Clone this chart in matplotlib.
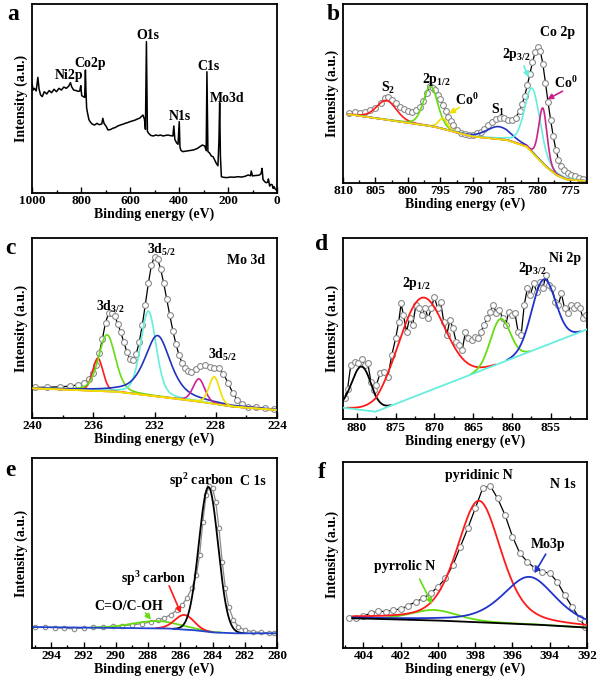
import matplotlib
matplotlib.use("Agg")
import matplotlib.pyplot as plt
import numpy as np
from matplotlib.ticker import MultipleLocator

plt.rcParams["font.family"] = ["Liberation Serif", "DejaVu Serif"]
plt.rcParams["font.weight"] = "bold"
plt.rcParams["axes.labelweight"] = "bold"
plt.rcParams["mathtext.fontset"] = "custom"
plt.rcParams["mathtext.rm"] = "Liberation Serif:bold"
plt.rcParams["mathtext.it"] = "Liberation Serif:bold"
plt.rcParams["mathtext.bf"] = "Liberation Serif:bold"
plt.rcParams["mathtext.default"] = "rm"

# ---- data (intensity in % of panel height) ----
# a: survey
a_energy = [1000, 995, 990, 983, 976, 971, 965, 958, 950, 940, 930, 920, 910, 900, 890,
            880, 870, 860, 850, 843, 838, 830, 820, 812, 805, 801, 797, 790, 785, 782,
            780, 777, 773, 768, 763, 755, 745, 735, 725, 715, 711, 706, 698, 690, 680,
            670, 660, 650, 640, 630, 620, 610, 600, 590, 580, 570, 560, 554, 547, 541,
            537, 533, 529, 524, 515, 505, 495, 485, 475, 465, 455, 445, 435, 425, 421,
            417, 410, 404, 399, 396, 392, 385, 370, 355, 340, 325, 315, 305, 295, 289,
            286, 282, 276, 268, 261, 254, 248, 241, 237, 234, 231, 227, 220, 205, 190,
            175, 160, 145, 130, 118, 108, 105, 100, 90, 80, 71, 65, 61, 57, 50,
            44, 38, 35, 30, 25, 20, 16, 12, 8, 3, 0]
a_counts = [58.0, 54.5, 55.4, 54.0, 61.2, 54.9, 51.9, 51.0, 53.6, 52.4, 54.2, 53.1, 54.9, 53.6, 55.4,
            54.5, 56.1, 55.4, 56.6, 58.4, 56.2, 54.5, 54.2, 53.8, 54.0, 56.8, 51.5, 51.0, 50.6, 65.1,
            55.0, 45.0, 42.1, 38.9, 37.7, 36.5, 35.9, 36.8, 36.1, 36.5, 39.5, 36.8, 35.4, 33.3, 33.5,
            34.2, 34.6, 35.4, 35.9, 36.3, 36.8, 37.2, 37.7, 38.1, 38.5, 39.1, 39.6, 40.4, 41.2, 39.0,
            33.6, 80.2, 32.6, 31.5, 30.4, 30.1, 30.6, 30.3, 30.6, 30.1, 30.4, 30.6, 30.3, 30.1, 35.4,
            28.3, 26.5, 25.7, 37.7, 24.1, 22.5, 21.8, 22.1, 22.4, 22.7, 23.5, 24.4, 25.3, 24.8, 22.3,
            64.2, 21.8, 21.2, 19.5, 19.1, 17.3, 15.6, 14.3, 27.8, 47.8, 19.5, 8.5, 8.2, 8.0, 8.3,
            8.2, 8.5, 8.3, 8.7, 9.4, 9.0, 11.5, 8.9, 9.1, 9.2, 9.4, 10.2, 12.9, 7.0, 5.8,
            5.3, 5.6, 7.3, 3.5, 4.4, 4.3, 2.3, 3.2, 2.1, 1.4, 1.2]

# b: Co 2p
b_energy = [809.0, 808.2, 807.4, 806.6, 805.8, 805.0, 804.2, 803.6, 803.0, 802.4, 801.8, 801.2,
            800.6, 800.0, 799.4, 798.8, 798.2, 797.6, 797.0, 796.6, 796.2, 795.8, 795.4, 795.0,
            794.6, 794.2, 793.8, 793.4, 793.0, 792.4, 791.8, 791.2, 790.6, 790.0, 789.4, 788.8,
            788.2, 787.6, 787.0, 786.4, 785.8, 785.2, 784.6, 784.0, 783.4, 782.8, 782.4, 782.0,
            781.6, 781.2, 780.8, 780.4, 780.0, 779.6, 779.2, 778.8, 778.4, 778.0, 777.6, 777.2,
            776.8, 776.4, 776.0, 775.4, 774.8, 774.2, 773.6, 773.0]
b_counts = [39.3, 39.6, 38.9, 39.8, 40.9, 42.0, 44.5, 47.5, 47.9, 46.4, 44.8, 42.6,
            41.3, 40.2, 39.6, 40.6, 42.6, 46.0, 50.5, 54.0, 53.3, 51.8, 49.4, 46.9,
            43.6, 40.0, 37.0, 34.5, 32.3, 29.8, 28.0, 27.2, 26.9, 27.0, 27.6, 28.6,
            30.2, 32.3, 34.2, 35.7, 36.3, 36.0, 35.3, 35.1, 36.5, 40.0, 44.2, 48.6,
            54.5, 61.0, 67.5, 73.0, 76.3, 74.0, 66.5, 56.0, 45.0, 35.0, 26.0, 18.5,
            13.0, 9.5, 7.2, 5.5, 4.4, 3.5, 2.8, 2.3]
b_bg_energy = [810.0, 808.5, 801.2, 796.0, 793.0, 789.9, 784.8, 781.7, 780.7, 778.7, 777.1, 775.6, 772.4]
b_bg_counts = [38.5, 38.0, 34.2, 31.4, 28.6, 25.8, 24.0, 20.2, 16.4, 9.0, 4.3, 1.9, 0.9]
b_labels = ["S2", "2p1/2", "Co0 (2p1/2)", "S1", "2p3/2", "Co0 (2p3/2)"]
b_centers = [803.3, 796.5, 794.6, 786.0, 780.8, 779.2]
b_heights = [10.8, 22.5, 6.0, 7.0, 36.0, 31.0]
b_fwhm = [3.6, 2.6, 1.6, 4.5, 2.8, 1.5]
b_eta = [0.2, 0.2, 0.2, 0.3, 0.3, 0.2]
b_colors = ["#ff1a1a", "#66dd11", "#f0e000", "#2233bb", "#66eedd", "#cc2288"]

# c: Mo 3d
c_energy = [239.8, 239.0, 238.2, 237.5, 237.0, 236.6, 236.3, 236.0, 235.8, 235.6, 235.4, 235.2,
            235.0, 234.8, 234.6, 234.4, 234.2, 234.0, 233.8, 233.6, 233.4, 233.2, 233.0, 232.8,
            232.6, 232.4, 232.2, 232.0, 231.8, 231.6, 231.4, 231.2, 231.0, 230.8, 230.6, 230.4,
            230.2, 230.0, 229.8, 229.6, 229.3, 229.0, 228.7, 228.4, 228.1, 227.8, 227.5, 227.2,
            226.9, 226.6, 226.3, 225.9, 225.4, 224.8, 224.2]
c_counts = [16.9, 17.0, 17.2, 17.6, 18.3, 19.5, 21.5, 25.0, 29.5, 36.0, 44.0, 53.0,
            58.2, 58.6, 56.5, 52.5, 47.5, 42.0, 36.5, 32.5, 32.4, 35.5, 42.0, 51.5,
            63.0, 75.0, 85.0, 89.8, 88.5, 83.0, 75.0, 66.0, 57.0, 48.5, 41.0, 35.0,
            30.5, 27.5, 26.0, 25.7, 27.0, 29.0, 29.4, 28.2, 27.9, 27.6, 24.5, 19.5,
            14.0, 10.0, 7.5, 6.2, 5.7, 5.2, 4.8]
c_bg_energy = [240.0, 234.5, 231.2, 229.0, 226.9, 224.0]
c_bg_counts = [16.4, 14.5, 11.2, 8.9, 6.1, 4.3]
c_centers = [235.7, 235.1, 232.4, 231.8, 229.1, 228.1]
c_heights = [18.2, 31.5, 47.0, 34.0, 12.6, 15.1]
c_fwhm = [0.8, 1.3, 1.2, 2.0, 0.9, 0.8]
c_eta = [0.2, 0.3, 0.3, 0.6, 0.2, 0.2]
c_colors = ["#ff1a1a", "#66dd11", "#66eedd", "#2233bb", "#cc2299", "#f0e000"]

# d: Ni 2p
d_energy = [881.6, 881.2, 880.8, 880.3, 879.8, 879.4, 879.0, 878.6, 878.2, 877.8, 877.5, 877.0,
            876.5, 876.0, 875.5, 875.0, 874.6, 874.3, 874.0, 873.6, 873.2, 872.8, 872.4, 872.0,
            871.6, 871.2, 870.8, 870.4, 870.0, 869.6, 869.2, 868.8, 868.4, 868.0, 867.6, 867.2,
            866.8, 866.4, 866.0, 865.6, 865.2, 864.8, 864.4, 864.0, 863.6, 863.2, 862.8, 862.4,
            862.0, 861.6, 861.2, 860.8, 860.4, 860.0, 859.6, 859.2, 858.8, 858.4, 858.0, 857.6,
            857.2, 856.8, 856.4, 856.0, 855.6, 855.2, 854.8, 854.4, 854.0, 853.6, 853.2, 852.8,
            852.4, 852.0, 851.6, 851.2, 850.8, 850.4]
d_counts = [11.6, 17.0, 30.0, 31.9, 31.0, 33.3, 30.0, 31.0, 20.8, 16.2, 19.0, 25.4,
            26.3, 23.6, 35.5, 44.8, 54.0, 64.0, 57.6, 48.4, 55.8, 52.0, 63.0, 61.3,
            57.6, 61.3, 55.8, 61.3, 67.8, 61.3, 65.0, 54.0, 46.6, 54.9, 50.3, 42.9,
            41.0, 38.3, 48.4, 44.8, 43.8, 45.7, 44.8, 48.4, 52.0, 55.8, 59.5, 63.2,
            58.6, 60.4, 55.8, 52.0, 59.5, 57.6, 58.6, 48.4, 46.6, 63.2, 72.4, 68.7,
            75.1, 70.5, 76.0, 72.4, 79.7, 74.2, 72.4, 65.0, 63.2, 69.6, 61.3, 58.6,
            63.2, 61.3, 63.2, 61.3, 55.8, 57.6]
d_bg_energy = [881.8, 877.6, 850.3]
d_bg_counts = [6.4, 4.2, 49.7]
d_centers = [879.4, 871.7, 861.5, 855.9]
d_heights = [24.0, 53.0, 24.4, 36.9]
d_fwhm = [3.0, 7.0, 3.0, 3.6]
d_colors = ["black", "#ff1a1a", "#66dd11", "#2233cc"]

# e: C 1s
e_energy = [295.0, 294.4, 293.8, 293.2, 292.6, 292.0, 291.4, 290.8, 290.2, 289.6, 289.0, 288.4,
            287.8, 287.4, 287.0, 286.6, 286.2, 285.9, 285.6, 285.3, 285.0, 284.8, 284.6, 284.4,
            284.2, 284.0, 283.8, 283.6, 283.4, 283.2, 283.0, 282.7, 282.4, 282.0, 281.5, 281.0,
            280.5, 280.2]
e_counts = [10.7, 10.9, 10.6, 10.2, 10.0, 10.4, 10.7, 10.9, 11.3, 11.6, 12.0, 12.7,
            13.6, 14.6, 15.8, 17.4, 19.9, 22.5, 26.0, 31.3, 38.4, 49.0, 66.5, 80.6,
            85.6, 84.2, 77.1, 63.0, 45.4, 31.3, 21.7, 14.6, 11.1, 9.3, 8.5, 8.1,
            7.9, 7.7]
e_bg_energy = [295.2, 286.9, 285.2, 284.0, 282.7, 280.0]
e_bg_counts = [10.9, 10.2, 9.3, 8.1, 7.6, 7.6]
e_centers = [287.5, 285.75, 284.25]
e_heights = [3.8, 7.7, 76.5]
e_fwhm = [3.5, 1.4, 1.4]
e_colors = ["#66dd11", "#ff1a1a", "black"]

# f: N 1s
f_energy = [404.8, 404.4, 404.0, 403.6, 403.2, 402.8, 402.4, 402.0, 401.6, 401.2, 400.8, 400.4,
            400.0, 399.6, 399.2, 398.8, 398.4, 398.0, 397.6, 397.2, 396.8, 396.4, 396.0, 395.6,
            395.2, 394.8, 394.4, 394.0, 393.6, 393.2, 392.8, 392.4, 392.1]
f_counts = [16.1, 15.8, 17.2, 18.5, 19.7, 19.4, 20.3, 20.8, 22.6, 24.7, 26.5, 29.2,
            32.8, 37.3, 44.4, 54.3, 64.2, 74.9, 85.7, 87.1, 80.3, 71.3, 59.7, 50.7,
            46.2, 42.7, 40.9, 40.0, 35.5, 28.3, 22.0, 15.8, 11.3]
f_bg_energy = [405.1, 404.5, 400.25, 397.6, 394.9, 392.0]
f_bg_counts = [15.9, 15.8, 14.7, 13.6, 12.5, 10.8]
f_centers = [400.2, 397.8, 395.1]
f_heights = [5.6, 65.3, 25.5]
f_fwhm = [3.0, 2.8, 3.4]
f_eta = [0.3, 0.4, 0.5]
f_colors = ["#66dd11", "#ff1a1a", "#2233cc"]


def pv(x, c, h, w, eta=0.0):
    g = np.exp(-4 * np.log(2) * ((x - c) / w) ** 2)
    lo = 1 / (1 + 4 * ((x - c) / w) ** 2)
    return h * (eta * lo + (1 - eta) * g)


W, H = 600, 685
fig = plt.figure(figsize=(W / 100, H / 100), dpi=100)


def make_ax(l, t, r, b, xlim, major, minor):
    ax = fig.add_axes([l / W, 1 - b / H, (r - l) / W, (b - t) / H])
    ax.set_xlim(*xlim)
    ax.set_ylim(0, 100)
    ax.set_yticks([])
    ax.xaxis.set_major_locator(MultipleLocator(major))
    ax.xaxis.set_minor_locator(MultipleLocator(minor))
    ax.tick_params(axis="x", which="both", direction="in", top=False, labelsize=9.5, pad=2, width=1)
    ax.tick_params(axis="x", which="major", length=4)
    ax.tick_params(axis="x", which="minor", length=2.5)
    for s in ax.spines.values():
        s.set_linewidth(1.3)
    ax.set_xlabel("Binding energy (eV)", fontsize=10, labelpad=0)
    ax.set_ylabel("Intensity (a.u.)", fontsize=10, labelpad=3)
    return ax


def circles(ax, x, y, ms=4.2, lc="black"):
    ax.plot(x, y, color=lc, lw=0.9, zorder=2)
    ax.plot(x, y, "o", ms=ms, mfc="white", mec="#8a8a8a", mew=0.8, zorder=2.5)


def note(ax, s, x, y, size=10):
    ax.text(x, y, s, ha="center", va="center", fontsize=size, fontweight="bold", zorder=5)


def arrow(ax, start, end, color):
    ax.annotate("", xy=end, xytext=start,
                arrowprops=dict(arrowstyle="-|>", color=color, lw=1.2, mutation_scale=8),
                zorder=5)


# ---- a ----
ax = make_ax(32, 4.3, 277, 192.7, (1000, 0), 200, 100)
ax.plot(a_energy, a_counts, color="black", lw=1.1)
note(ax, "Ni2p", 849, 62.0)
note(ax, "Co2p", 763, 68.4)
note(ax, "O1s", 527, 83.7)
note(ax, "C1s", 281, 66.9)
note(ax, "N1s", 397, 40.4)
note(ax, "Mo3d", 204, 50.1)

# ---- b ----
ax = make_ax(343, 4.3, 587, 182.7, (810, 772.4), 5, 2.5)
xb = np.linspace(809.2, 772.8, 500)
bgb = np.interp(xb, b_bg_energy[::-1], b_bg_counts[::-1])
circles(ax, b_energy, b_counts)
for c, h, w, e, col in zip(b_centers, b_heights, b_fwhm, b_eta, b_colors):
    ax.plot(xb, bgb + pv(xb, c, h, w, e), color=col, lw=1.2, zorder=3)
ax.plot(xb, bgb, color="#f0e000", lw=1.2, zorder=3)
note(ax, "Co 2p", 776.9, 84.3)
note(ax, "2p$_{3/2}$", 783.3, 71.6)
note(ax, "Co$^{0}$", 775.6, 55.7)
note(ax, "S$_{2}$", 803.0, 52.9)
note(ax, "2p$_{1/2}$", 795.6, 57.6)
note(ax, "Co$^{0}$", 790.9, 46.4)
note(ax, "S$_{1}$", 786.1, 40.7)
arrow(ax, (782.3, 66.9), (781.2, 57.6), "#66eedd")
arrow(ax, (775.8, 52.0), (778.9, 46.0), "#cc2288")
arrow(ax, (791.7, 43.0), (794.0, 37.9), "#f0e000")

# ---- c ----
ax = make_ax(32, 238.3, 277, 417.7, (240, 224), 4, 2)
xc = np.linspace(239.9, 224.1, 500)
bgc = np.interp(xc, c_bg_energy[::-1], c_bg_counts[::-1])
circles(ax, c_energy, c_counts)
for c, h, w, e, col in zip(c_centers, c_heights, c_fwhm, c_eta, c_colors):
    ax.plot(xc, bgc + pv(xc, c, h, w, e), color=col, lw=1.2, zorder=3)
ax.plot(xc, bgc, color="#f0e000", lw=1.2, zorder=3)
note(ax, "Mo 3d", 226.0, 87.9)
note(ax, "3d$_{3/2}$", 234.9, 61.9)
note(ax, "3d$_{5/2}$", 231.55, 93.5)
note(ax, "3d$_{5/2}$", 227.6, 34.9)

# ---- d ----
ax = make_ax(343, 238.3, 587, 419.3, (881.8, 850.3), 5, 2.5)
xd = np.linspace(881.8, 850.3, 600)
bgd = np.interp(xd, d_bg_energy[::-1], d_bg_counts[::-1])
circles(ax, d_energy, d_counts)
for c, h, w, col in zip(d_centers, d_heights, d_fwhm, d_colors):
    p = pv(xd, c, h, w)
    ax.plot(xd, np.where(p > 0.3, bgd + p, np.nan), color=col, lw=1.3, zorder=3)
ax.plot(xd, bgd, color="#66eedd", lw=1.3, zorder=3)
note(ax, "Ni 2p", 853.1, 89)
note(ax, "2p$_{3/2}$", 857.3, 83.4)
note(ax, "2p$_{1/2}$", 872.3, 75.1)

# ---- e ----
ax = make_ax(32, 458.3, 277, 647.7, (295.2, 280), 2, 1)
xe = np.linspace(295.1, 280.1, 600)
bge = np.interp(xe, e_bg_energy[::-1], e_bg_counts[::-1])
circles(ax, e_energy, e_counts, ms=3.2, lc="#8a8a8a")
for c, h, w, col in zip(e_centers, e_heights, e_fwhm, e_colors):
    p = pv(xe, c, h, w)
    ax.plot(xe, np.where(p > 0.1, bge + p, np.nan), color=col, lw=1.3, zorder=3)
ax.plot(xe, bge, color="#2244cc", lw=1.3, zorder=3)
note(ax, "sp$^{2}$ carbon", 284.7, 88)
note(ax, "C 1s", 281.5, 88)
note(ax, "sp$^{3}$ carbon", 287.65, 36.6)
note(ax, "C=O/C-OH", 289.2, 21.7)
arrow(ax, (286.76, 34.0), (285.9, 16.9), "#ff1a1a")
arrow(ax, (288.27, 19.4), (287.7, 13.7), "#66dd11")

# ---- f ----
ax = make_ax(343, 461.7, 587, 647.7, (405.1, 392), 2, 1)
xf = np.linspace(404.6, 392.0, 500)
bgf = np.interp(xf, f_bg_energy[::-1], f_bg_counts[::-1])
circles(ax, f_energy, f_counts)
for c, h, w, e, col in zip(f_centers, f_heights, f_fwhm, f_eta, f_colors):
    ax.plot(xf, bgf + pv(xf, c, h, w, e), color=col, lw=1.3, zorder=3)
ax.plot(xf, bgf, color="black", lw=1.3, zorder=3)
note(ax, "pyridinic N", 397.8, 92.8)
note(ax, "N 1s", 393.3, 87.5)
note(ax, "Mo3p", 394.1, 55.6)
note(ax, "pyrrolic N", 401.8, 43.5)
arrow(ax, (394.14, 51.6), (394.9, 38.7), "#2233cc")
arrow(ax, (401.05, 38.2), (400.25, 22.0), "#66dd11")

# panel letters
for s, px, py in [("a", 13, 15), ("b", 333, 15), ("c", 10, 248),
                  ("d", 322, 245), ("e", 10, 470), ("f", 322, 472)]:
    fig.text(px / W, 1 - py / H, s, ha="center", va="center", fontsize=17, fontweight="bold")

fig.savefig("out.png", dpi=100)
